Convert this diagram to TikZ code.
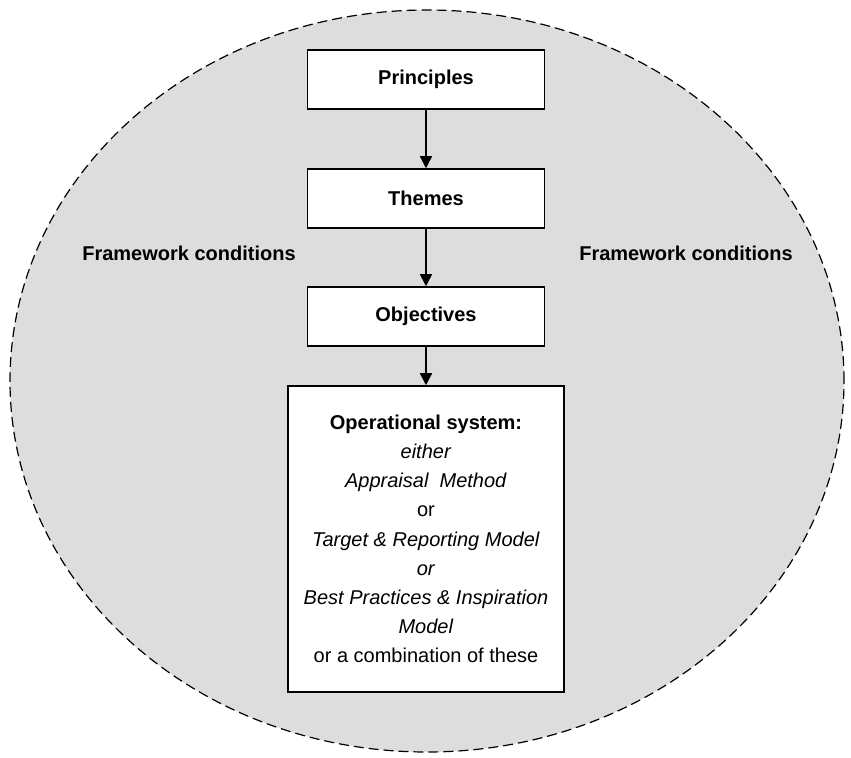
\documentclass[tikz,border=0pt]{standalone}
\usepackage{fontspec}
\setmainfont{Liberation Sans}
\usetikzlibrary{arrows.meta}
\definecolor{fieldgray}{RGB}{221,221,221}
\begin{document}
\begin{tikzpicture}[x=0.5pt,y=-0.5pt,>={Triangle[length=6pt,width=6pt]},
	font=\fontsize{10}{14.6}\selectfont,
	box/.style={draw,line width=0.75pt,fill=white,minimum width=118.5pt,minimum height=29.5pt,inner sep=0pt,font=\fontsize{10}{14.6}\selectfont\bfseries},
	flow/.style={->,line width=0.75pt}]
			\useasboundingbox (0,0) rectangle (851,758);
			\draw[fill=fieldgray,line width=0.6pt,dash pattern=on 5pt off 2.5pt] (427,381) ellipse [x radius=208.5pt,y radius=185.5pt];
			\node[box] (principles) at (426,79.5) {Principles};
			\node[box] (themes) at (426,198.5) {Themes};
			\node[box] (objectives) at (426,316.5) {Objectives};
			\node[box,minimum width=138pt,minimum height=153pt,align=center,font=\fontsize{10}{14.6}\selectfont] (opsystem) at (426,539)
				{\textbf{Operational system:}\\ \textit{either}\\ \textit{Appraisal~ Method}\\ or\\ \textit{Target \& Reporting Model}\\ \textit{or}\\ \textit{Best Practices \& Inspiration}\\ \textit{Model}\\ or a combination of these};
			\node[font=\fontsize{10}{14.6}\selectfont\bfseries] (fwleft) at (189,253) {Framework conditions};
			\node[font=\fontsize{10}{14.6}\selectfont\bfseries] (fwright) at (686,253) {Framework conditions};
			\draw[flow] (principles) -- (themes);
			\draw[flow] (themes) -- (objectives);
			\draw[flow] (objectives) -- (opsystem);
\end{tikzpicture}
\end{document}
